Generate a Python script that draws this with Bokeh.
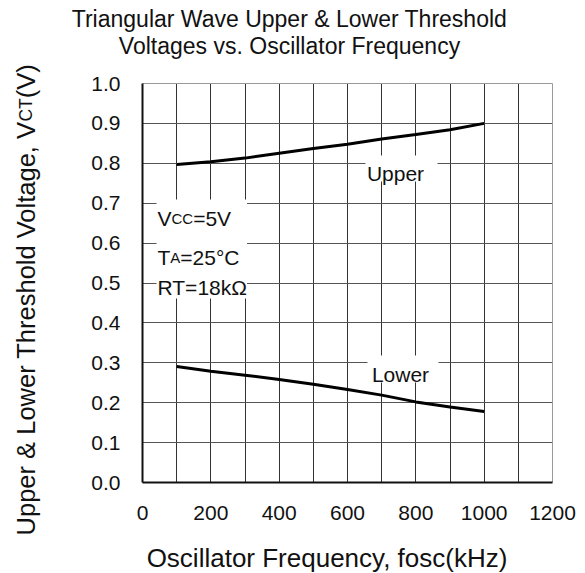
import math
from bokeh.plotting import figure
from bokeh.models import (Range1d, FixedTicker, Label, BoxAnnotation, NumeralTickFormatter, Grid)
from bokeh.embed import file_html
from bokeh.resources import INLINE

# ---- data ----
freq_khz = [100, 200, 300, 400, 500, 600, 700, 800, 900, 1000]
upper_v = [0.797, 0.804, 0.813, 0.825, 0.837, 0.848, 0.861, 0.872, 0.884, 0.900]
lower_v = [0.291, 0.279, 0.269, 0.258, 0.246, 0.233, 0.219, 0.202, 0.189, 0.178]

x_ticks = [0, 200, 400, 600, 800, 1000, 1200]
x_grid = [100, 200, 300, 400, 500, 600, 700, 800, 900, 1000, 1100]
y_ticks = [0.0, 0.1, 0.2, 0.3, 0.4, 0.5, 0.6, 0.7, 0.8, 0.9, 1.0]
y_grid = [0.1, 0.2, 0.3, 0.4, 0.5, 0.6, 0.7, 0.8, 0.9]
X_MIN, X_MAX = 0, 1200
Y_MIN, Y_MAX = 0.0, 1.0

title_lines = ["Triangular Wave Upper & Lower Threshold", "Voltages vs. Oscillator Frequency"]
x_title = "Oscillator Frequency, fosc(kHz)"
y_title_main = "Upper & Lower Threshold Voltage, V"
y_title_sub = "CT"
y_title_end = "(V)"

FONT = "Liberation Sans"
INK = "#111111"
AW = {' ': 278, '&': 667, ',': 278, '(': 333, ')': 333, '=': 584, '5': 556, '2': 556,
      'U': 722, 'p': 556, 'e': 556, 'r': 333, 'L': 556, 'o': 556, 'w': 722, 'T': 611,
      'h': 556, 's': 500, 'l': 222, 'd': 556, 'V': 667, 't': 278, 'a': 556, 'g': 556,
      'C': 722, 'A': 667, '°': 400}


def tw(s, size):
    return sum(AW.get(c, 556) for c in s) * size / 1000.0


# page geometry
W, H = 585, 573
FRAME_L, FRAME_T, FW, FH = 142, 83, 410, 399
PX_X = FW / (X_MAX - X_MIN)
PX_Y = FH / (Y_MAX - Y_MIN)


def dx(px):  # page px -> data x
    return X_MIN + (px - FRAME_L) / PX_X


def dy(py):  # page px -> data y
    return Y_MIN + (FRAME_T + FH - py) / PX_Y


p = figure(width=W, height=H,
           x_range=Range1d(dx(0), dx(W)), y_range=Range1d(dy(H), dy(0)),
           min_border=0, min_border_left=0, min_border_right=0,
           min_border_top=0, min_border_bottom=0,
           output_backend="svg", toolbar_location=None)
p.background_fill_color = "white"
p.border_fill_color = "white"
p.outline_line_color = None
p.grid.visible = False

# axes drawn at the data origin, limited to the data extent
xa, ya = p.xaxis[0], p.yaxis[0]
xa.fixed_location = Y_MIN
ya.fixed_location = X_MIN
xa.bounds = (X_MIN, X_MAX)
ya.bounds = (Y_MIN, Y_MAX)
for ax in (xa, ya):
    ax.axis_line_color = INK
    ax.axis_line_width = 2
    ax.major_tick_out = 0
    ax.major_tick_in = 0
    ax.minor_tick_out = 0
    ax.minor_tick_in = 0
    ax.major_label_text_font = FONT
    ax.major_label_text_font_size = "21px"
    ax.major_label_text_color = INK
xa.ticker = FixedTicker(ticks=x_ticks)
ya.ticker = FixedTicker(ticks=y_ticks)
ya.formatter = NumeralTickFormatter(format="0.0")
xa.major_label_standoff = 23
ya.major_label_standoff = 22

# grid lines (limited to the data area)
has_cross = "cross_bounds" in Grid.properties()
grid_specs = [
    (0, x_grid, "#333333"), (1, y_grid, "#555555"),
    (0, [X_MAX], "#9a9a9a"), (1, [Y_MAX], "#9a9a9a"),
]
for dim, ticks, col in grid_specs:
    if has_cross:
        g = Grid(dimension=dim, ticker=FixedTicker(ticks=ticks),
                 bounds=(X_MIN, X_MAX) if dim == 0 else (Y_MIN, Y_MAX),
                 cross_bounds=(Y_MIN, Y_MAX) if dim == 0 else (X_MIN, X_MAX),
                 grid_line_color=col, grid_line_width=1)
        p.add_layout(g)
    else:
        if dim == 0:
            p.segment(x0=ticks, y0=[Y_MIN] * len(ticks), x1=ticks, y1=[Y_MAX] * len(ticks),
                      line_color=col, line_width=1)
        else:
            p.segment(x0=[X_MIN] * len(ticks), y0=ticks, x1=[X_MAX] * len(ticks), y1=ticks,
                      line_color=col, line_width=1)

# curves
p.line(freq_khz, upper_v, line_color="black", line_width=3)
p.line(freq_khz, lower_v, line_color="black", line_width=3)

# white boxes hiding grid behind in-plot texts
for (l, r, t, b) in [(156, 246.5, 199, 298), (365, 437, 155, 181), (367, 438, 355, 382)]:
    p.add_layout(BoxAnnotation(left=dx(l), right=dx(r), top=dy(t), bottom=dy(b),
                               fill_color="white", fill_alpha=1.0, line_color=None))


def lab(px, py, text, size, align="left", baseline="alphabetic", angle=0.0):
    p.add_layout(Label(x=dx(px), y=dy(py), text=text, text_font=FONT,
                       text_font_size=f"{size}px", text_color=INK, text_align=align,
                       text_baseline=baseline, angle=angle))


lab(395, 173, "Upper", 21, align="center")
lab(400, 374, "Lower", 21, align="center")

big, small = 21, 15
x0 = 157
lab(x0, 218, "V", big)
lab(x0 + tw("V", big), 218, "CC", small)
lab(x0 + tw("V", big) + tw("CC", small), 218, "=5V", big)
lab(x0, 256.5, "T", big)
lab(x0 + tw("T", big), 256.5, "A", small)
lab(x0 + tw("T", big) + tw("A", small), 256.5, "=25°C", big)
lab(x0, 287, "RT=18kΩ", big)

# title
lab(289, 18, title_lines[0], 23, align="center", baseline="middle")
lab(289, 45, title_lines[1], 23, align="center", baseline="middle")

# x title
lab(326.5, 557, x_title, 26, align="center", baseline="middle")

# y title (rotated, composed of pieces)
ys, ysm = 25.5, 17.5
base_x = 25
total = tw(y_title_main, ys) + tw(y_title_sub, ysm) + tw(y_title_end, ys)
bottom_y = 300 + total / 2
p1 = bottom_y - tw(y_title_main, ys)
lab(base_x, p1, y_title_main, ys, align="right", angle=math.pi / 2)
lab(base_x, p1, y_title_sub, ysm, align="left", angle=math.pi / 2)
lab(base_x, p1 - tw(y_title_sub, ysm), y_title_end, ys, align="left", angle=math.pi / 2)

open("out.html", "w").write(file_html(p, INLINE))
